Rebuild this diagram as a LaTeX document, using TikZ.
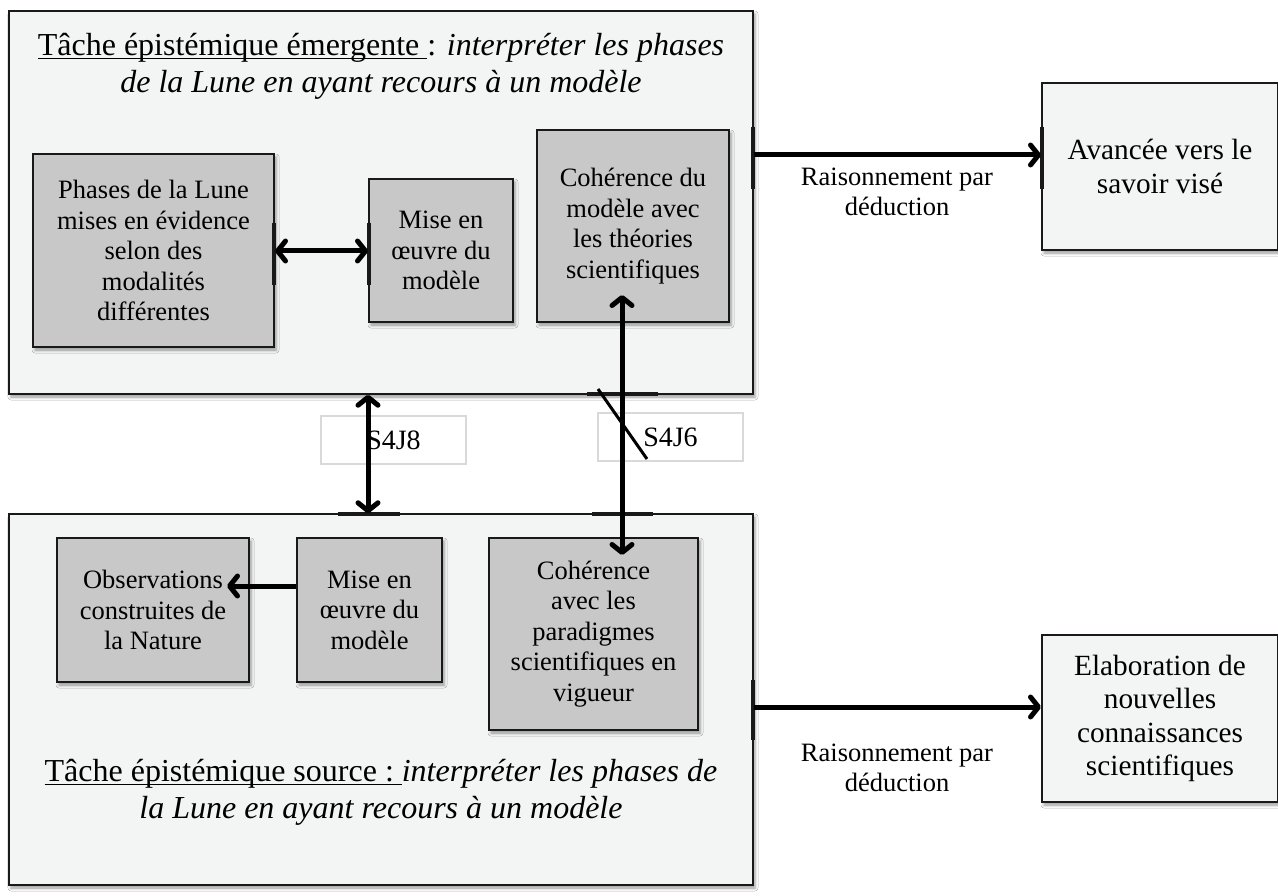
\documentclass[tikz,border=0pt]{standalone}
\usepackage{fontspec}
\setmainfont{Liberation Serif}
\usetikzlibrary{arrows.meta,shadows.blur}
\definecolor{bgbox}{RGB}{243,245,245}
\definecolor{graybox}{RGB}{200,200,200}
\definecolor{edgec}{RGB}{25,25,25}
\newcommand\myul[1]{\setbox0\hbox{#1}\rlap{\rule[-4pt]{\wd0}{1.3pt}}\box0}
\tikzset{
  shd/.style={blur shadow={shadow xshift=2pt,shadow yshift=-3pt,shadow blur radius=3pt,shadow opacity=40}},
  bigbox/.style={draw=edgec,line width=1.5pt,fill=bgbox,inner sep=0pt,shd},
  graybx/.style={draw=edgec,line width=2pt,fill=graybox,align=center,inner sep=0pt,
    font=\fontsize{26.5}{30.5}\selectfont,shd},
  rbox/.style={draw=edgec,line width=2pt,fill=bgbox,align=center,inner sep=0pt,
    font=\fontsize{29.3}{33.5}\selectfont,shd},
  sbox/.style={draw=black!15,line width=1.5pt,fill=white,inner sep=0pt,
    font=\fontsize{28}{32}\selectfont},
  lbl/.style={align=center,inner sep=0pt,font=\fontsize{26.5}{30}\selectfont},
  arr/.style={line width=5pt,-{Straight Barb[length=8pt,width=20pt,round]}},
  darr/.style={line width=5pt,{Straight Barb[length=8pt,width=20pt,round]}-{Straight Barb[length=8pt,width=20pt,round]}},
  tick/.style={line width=3.5pt,edgec},
}
\begin{document}
\begin{tikzpicture}[x=1pt,y=-1pt]
\useasboundingbox[fill=white] (0,0) rectangle (1278,896);

% big boxes
\node[bigbox,minimum width=744pt,minimum height=383pt] (TOP) at (381,202.5) {};
\node[bigbox,minimum width=744pt,minimum height=371pt] (BOT) at (381,699.5) {};

% titles
\node[align=center,inner sep=0pt,font=\fontsize{32}{37}\selectfont] (T1) at (381,66)
  {\myul{Tâche épistémique émergente\ }: \textit{interpréter les phases}\\
   \textit{de la Lune en ayant recours à un modèle}};
\node[align=center,inner sep=0pt,font=\fontsize{32}{37}\selectfont] (T2) at (381,792)
  {\myul{Tâche épistémique source :\ }\textit{interpréter les phases de}\\
   \textit{la Lune en ayant recours à un modèle}};

% inner gray boxes (top)
\node[graybx,minimum width=241pt,minimum height=193pt] (A) at (153.5,250.5)
  {Phases de la Lune\\mises en évidence\\selon des\\modalités\\différentes};
\node[graybx,minimum width=144pt,minimum height=143pt] (B) at (441,250.5)
  {Mise en\\œuvre du\\modèle};
\node[graybx,minimum width=192pt,minimum height=192pt] (C) at (633,226)
  {Cohérence du\\modèle avec\\les théories\\scientifiques};

% inner gray boxes (bottom)
\node[graybx,minimum width=192pt,minimum height=144pt] (E) at (153,610)
  {Observations\\construites de\\la Nature};
\node[graybx,minimum width=145pt,minimum height=144pt] (F) at (369.5,610)
  {Mise en\\œuvre du\\modèle};
\node[graybx,minimum width=209pt,minimum height=192pt] (G) at (593.5,634)
  {Cohérence\\avec les\\paradigmes\\scientifiques en\\vigueur};

% right boxes
\node[rbox,minimum width=236pt,minimum height=167pt] (AV) at (1160,166.5)
  {Avancée vers le\\savoir visé};
\node[rbox,minimum width=236pt,minimum height=167pt] (EL) at (1160,718.5)
  {Elaboration de\\nouvelles\\connaissances\\scientifiques};

% session label boxes
\node[sbox,minimum width=145pt,minimum height=48pt] (S8) at (393.5,440) {S4J8};
\node[sbox,minimum width=145pt,minimum height=48pt] (S6) at (670.5,437) {S4J6};

% connector end ticks
\draw[tick] (274,223) -- (274,285);
\draw[tick] (369,223) -- (369,285);
\draw[tick] (753,127) -- (753,189);
\draw[tick] (1042,127) -- (1042,189);
\draw[tick] (753,680) -- (753,740);
\draw[tick] (587,394) -- (658,394);
\draw[tick] (338,514) -- (400,514);
\draw[tick] (592,514) -- (653,514);

% connectors
\coordinate (Ein) at (227,586);
\coordinate (Ctip) at (622,295);
\coordinate (Gtip) at (622,555);
\draw[darr] (A.east |- 0,251) -- (B.west |- 0,251);
\draw[arr] (F.west |- Ein) -- (Ein);
\draw[arr] (TOP.east |- 0,155) -- (AV.west |- 0,155);
\draw[arr] (BOT.east |- 0,707) -- (EL.west |- 0,707);
\draw[darr] (TOP.south -| 368,0) -- (BOT.north -| 368,0);
\draw[darr] (Ctip) -- (Gtip);
\draw[line width=3pt] (598,389) -- (647,459);

% reasoning labels
\node[lbl] (R1) at (897,192) {Raisonnement par\\déduction};
\node[lbl] (R2) at (897,768) {Raisonnement par\\déduction};
\end{tikzpicture}
\end{document}
